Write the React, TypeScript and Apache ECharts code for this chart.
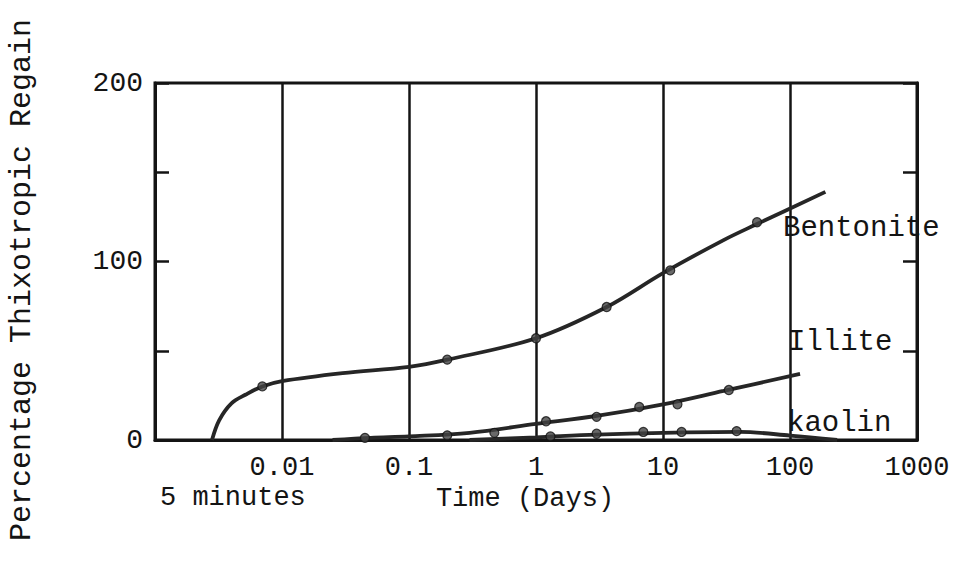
import React, { useEffect, useRef } from "react";
import * as echarts from "echarts";

// x: time in days (log scale), y: percentage thixotropic regain
const bentoniteCurve: [number, number][] = [
  [0.00281, 0], [0.0032, 11], [0.004, 20.5], [0.0052, 25.5], [0.007, 30], [0.01, 33],
  [0.03, 37.5], [0.1, 41], [0.2, 45], [1, 57], [3.6, 74.5], [10, 93.5],
  [30, 112], [55, 121], [190, 139],
];
const bentoniteMarkers: [number, number][] = [
  [0.007, 30], [0.2, 45], [1, 57], [3.6, 74.5], [11.4, 95], [55, 122],
];
const illiteCurve: [number, number][] = [
  [0.025, 0], [0.05, 1.2], [0.1, 2], [0.3, 4], [1, 9], [3, 13.5], [10, 20],
  [30, 27.5], [120, 37],
];
const illiteMarkers: [number, number][] = [
  [0.045, 1.2], [0.2, 2.6], [0.47, 4], [1.2, 10.5], [3, 13], [6.5, 18.5], [13, 20], [33, 28],
];
const kaolinCurve: [number, number][] = [
  [0.3, 0], [1, 1.5], [3, 3], [10, 4], [40, 4.5], [100, 2.5], [235, 0],
];
const kaolinMarkers: [number, number][] = [
  [1.3, 2], [3, 3.5], [7, 4.5], [14, 4.5], [38, 5],
];

const xTickLabels = ["", "0.01", "0.1", "1", "10", "100", "1000"]; // exponents -3..3
const yTickLabels: Record<number, string> = { 0: "0", 100: "100", 200: "200" };

const FONT = "'Liberation Mono', 'DejaVu Sans Mono', monospace";
const INK = "#141414";

export default function App() {
  const ref = useRef<HTMLDivElement>(null);
  useEffect(() => {
    if (!ref.current) return;
    const chart = echarts.init(ref.current, undefined, { renderer: "svg" });
    const lineSeries = (name: string, data: [number, number][]) => ({
      name,
      type: "line",
      data,
      smooth: 0.35,
      symbol: "none",
      lineStyle: { color: "#262626", width: 3.8 },
      z: 3,
    });
    const markerSeries = (name: string, data: [number, number][]) => ({
      name: name + " data",
      type: "scatter",
      data,
      symbol: "circle",
      symbolSize: 9,
      itemStyle: { color: "#444", borderColor: "#111", borderWidth: 1.2 },
      z: 4,
    });
    const yAxisBase = {
      type: "value",
      min: 0,
      max: 200,
      interval: 50,
      axisLine: { show: true, lineStyle: { color: INK, width: 3 } },
      axisTick: { show: true, inside: true, length: 14, lineStyle: { color: INK, width: 2.5 } },
      splitLine: { show: false },
    };
    chart.setOption({
      animation: false,
      backgroundColor: "#ffffff",
      grid: {
        left: 155, top: 83, width: 762, height: 357,
        show: true, borderColor: INK, borderWidth: 3, containLabel: false,
      },
      xAxis: {
        type: "log",
        logBase: 10,
        min: 0.001,
        max: 1000,
        axisLine: { show: true, onZero: false, lineStyle: { color: INK, width: 3 } },
        axisTick: { show: false },
        minorTick: { show: false },
        splitLine: { show: true, lineStyle: { color: INK, width: 2.5 } },
        axisLabel: {
          show: true,
          showMinLabel: true,
          showMaxLabel: true,
          hideOverlap: false,
          margin: 14,
          color: INK,
          fontFamily: FONT,
          fontSize: 27,
          formatter: (v: number) => xTickLabels[Math.round(Math.log10(v)) + 3] ?? "",
        },
        name: "Time (Days)",
        nameLocation: "middle",
        nameGap: 44,
        nameTextStyle: { color: INK, fontFamily: FONT, fontSize: 27, padding: [0, 22, 0, 0] },
      },
      yAxis: [
        {
          ...yAxisBase,
          position: "left",
          axisLabel: {
            margin: 12,
            color: INK,
            fontFamily: FONT,
            fontSize: 28,
            formatter: (v: number) => yTickLabels[v] ?? "",
          },
        },
        {
          ...yAxisBase,
          position: "right",
          axisLabel: { show: false },
        },
      ],
      series: [
        lineSeries("Bentonite", bentoniteCurve),
        lineSeries("Illite", illiteCurve),
        lineSeries("kaolin", kaolinCurve),
        markerSeries("Bentonite", bentoniteMarkers),
        markerSeries("Illite", illiteMarkers),
        markerSeries("kaolin", kaolinMarkers),
      ],
      graphic: [
        {
          type: "text", x: 22, y: 280, rotation: Math.PI / 2,
          style: {
            text: "Percentage Thixotropic Regain", fill: INK, font: `30px ${FONT}`,
            textAlign: "center", textVerticalAlign: "middle",
          },
        },
        {
          type: "text", x: 160, y: 498,
          style: { text: "5 minutes", fill: INK, font: `27px ${FONT}`, textAlign: "left", textVerticalAlign: "middle" },
        },
        {
          type: "text", x: 783, y: 228, z: 10,
          style: { text: "Bentonite", fill: INK, font: `29px ${FONT}`, textAlign: "left", textVerticalAlign: "middle" },
        },
        {
          type: "text", x: 788, y: 342, z: 10,
          style: { text: "Illite", fill: INK, font: `29px ${FONT}`, textAlign: "left", textVerticalAlign: "middle" },
        },
        {
          type: "text", x: 787, y: 423, z: 10,
          style: { text: "kaolin", fill: INK, font: `29px ${FONT}`, textAlign: "left", textVerticalAlign: "middle" },
        },
      ],
    });
    return () => chart.dispose();
  }, []);
  return (
    <div
      ref={ref}
      style={{ position: "fixed", left: 0, top: 0, width: 963, height: 571, background: "#fff" }}
    />
  );
}
